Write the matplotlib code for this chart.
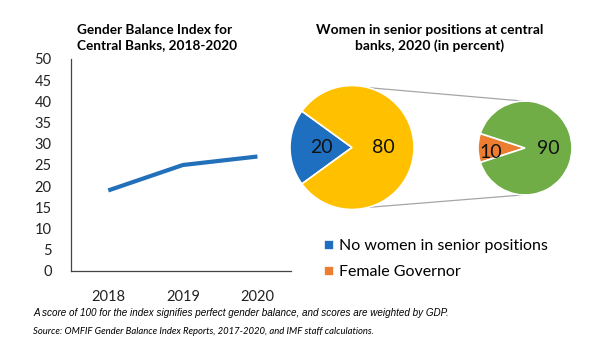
import numpy as np
import matplotlib
matplotlib.use("Agg")
import matplotlib.pyplot as plt

plt.rcParams['font.family'] = ['Lato', 'DejaVu Sans']

# data
years = ['2018', '2019', '2020']
gbi_index = [19, 25, 27]
y_ticks = list(range(0, 55, 5))

big_pie_vals = [20, 80]        # no women in senior positions / some women
small_pie_vals = [10, 90]      # female governor / other
legend_labels = ['No women in senior positions', 'Female Governor']

blue = '#1F6FC0'
yellow = '#FFC000'
green = '#70AD47'
orange = '#ED7D31'
line_blue = '#2270BA'

W, H = 600, 338
fig = plt.figure(figsize=(6, 3.38), dpi=100)

# ---- line chart ----
ax = fig.add_axes([71 / W, 67 / H, 220 / W, 212 / H])
x = np.arange(len(years))
ax.plot(x, gbi_index, color=line_blue, lw=3, solid_capstyle='butt')
ax.set_xlim(-0.5, 2.45)
ax.set_ylim(0, 50)
ax.set_yticks(y_ticks)
ax.set_xticks(x)
ax.set_xticklabels(years)
ax.tick_params(length=0, labelsize=10.5, colors='#222222', pad=14)
ax.tick_params(axis='y', pad=14)
for s in ['top', 'right']:
    ax.spines[s].set_visible(False)
for s in ['left', 'bottom']:
    ax.spines[s].set_color('#444444')
    ax.spines[s].set_linewidth(0.9)

fig.text(77 / W, 1 - 24 / H, 'Gender Balance Index for\nCentral Banks, 2018-2020',
         ha='left', va='top', fontsize=9.8, fontweight='bold', linespacing=1.35)

# ---- pies in pixel coordinates ----
pax = fig.add_axes([0, 0, 1, 1])
c1, r1 = (352, 147.5), 62
c2, r2 = (525, 148), 47

w1, t1, a1 = pax.pie(big_pie_vals, colors=[blue, yellow], center=c1, radius=r1,
                     startangle=180 - big_pie_vals[0] * 1.8, autopct='%d',
                     pctdistance=0.5, wedgeprops=dict(edgecolor='white', linewidth=1.2),
                     textprops=dict(fontsize=14, color='#111111'))
w2, t2, a2 = pax.pie(small_pie_vals, colors=[orange, green], center=c2, radius=r2,
                     startangle=180 - small_pie_vals[0] * 1.8, autopct='%d',
                     pctdistance=0.5, wedgeprops=dict(edgecolor='white', linewidth=1.2),
                     textprops=dict(fontsize=14, color='#111111'))
# push small-slice label outward
a2[0].set_position((c2[0] - 0.72 * r2, c2[1] + 5))
a1[1].set_position((c1[0] + 0.5 * r1, c1[1]))

pax.set_xlim(0, W)
pax.set_ylim(H, 0)
pax.set_aspect('equal')
pax.axis('off')

# connector lines
ang = np.deg2rad(75)
for sgn in (-1, 1):
    p1 = (c1[0] + r1 * np.cos(ang), c1[1] + sgn * r1 * np.sin(ang))
    p2 = (c2[0] - 3, c2[1] + sgn * r2)
    pax.plot([p1[0], p2[0]], [p1[1], p2[1]], color='#A6A6A6', lw=0.9, zorder=0)

fig.text(430 / W, 1 - 24 / H, 'Women in senior positions at central\nbanks, 2020 (in percent)',
         ha='center', va='top', fontsize=10, fontweight='bold', linespacing=1.35)

fig.legend([w1[0], w2[0]], legend_labels, loc='upper left',
           bbox_to_anchor=(310 / W, 1 - 225 / H), frameon=False,
           handlelength=0.6, handleheight=0.6, handletextpad=0.3,
           labelspacing=0.75, fontsize=11.5)

# footnotes
fig.text(33 / W, 1 - 313 / H,
         'A score of 100 for the index signifies perfect gender balance, and scores are weighted by GDP.',
         ha='left', va='center', fontsize=7.1, style='italic', family=['Liberation Sans'])
fig.text(33 / W, 1 - 331 / H,
         'Source: OMFIF Gender Balance Index Reports, 2017-2020, and IMF staff calculations.',
         ha='left', va='center', fontsize=6.8, style='italic')

fig.savefig('out.png', dpi=100, facecolor='white')
